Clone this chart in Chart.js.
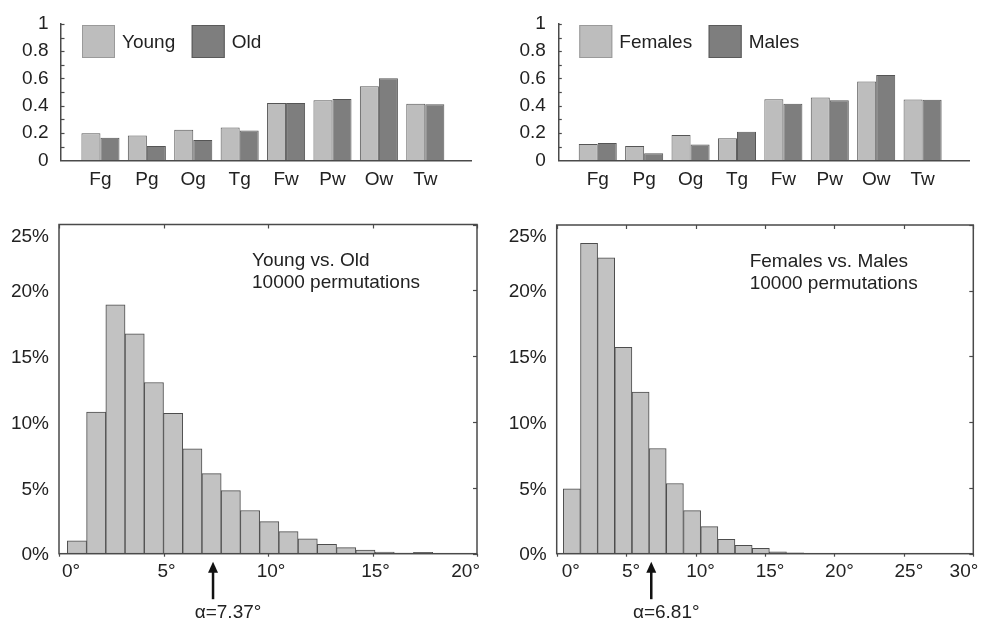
<!DOCTYPE html>
<html><head><meta charset="utf-8">
<script src="https://cdn.jsdelivr.net/npm/chart.js@4/dist/chart.umd.min.js"></script>
<style>
html,body{margin:0;padding:0;background:#fff;width:983px;height:622px;overflow:hidden}
.p{position:absolute}
canvas{display:block}
</style></head><body>
<div class="p" style="left:0;top:0"><canvas id="c1" width="490" height="200"></canvas></div>
<div class="p" style="left:490px;top:0"><canvas id="c2" width="493" height="200"></canvas></div>
<div class="p" style="left:0;top:200px"><canvas id="c3" width="490" height="422"></canvas></div>
<div class="p" style="left:490px;top:200px"><canvas id="c4" width="493" height="422"></canvas></div>
<script>
// ---------- data ----------
const categories = ['Fg','Pg','Og','Tg','Fw','Pw','Ow','Tw'];
const youngVals  = [0.199,0.182,0.224,0.241,0.421,0.440,0.542,0.414];
const oldVals    = [0.166,0.104,0.148,0.219,0.421,0.450,0.601,0.411];
const femaleVals = [0.119,0.104,0.185,0.161,0.447,0.460,0.577,0.445];
const maleVals   = [0.126,0.051,0.115,0.209,0.414,0.440,0.626,0.443];
const topYTicks  = [0,0.2,0.4,0.6,0.8,1];
const topYLabels = ['0','0.2','0.4','0.6','0.8','1'];
const topMinorTicks = [0.1,0.2,0.3,0.4,0.5,0.6,0.7,0.8,0.9,1];

const binCentersYO = [0.86,1.78,2.70,3.62,4.54,5.46,6.38,7.30,8.22,9.14,10.06,10.98,11.90,12.82,13.74,14.66,15.58,16.50,17.42];
const pctYO        = [0.97,10.76,18.9,16.7,13.0,10.66,7.97,6.08,4.79,3.28,2.44,1.68,1.12,0.72,0.46,0.28,0.13,0.05,0.10];
const binCentersFM = [1.09,2.33,3.56,4.80,6.04,7.27,8.51,9.75,10.99,12.22,13.46,14.70,15.93,17.17];
const pctFM        = [4.94,23.6,22.5,15.7,12.3,8.0,5.34,3.28,2.06,1.1,0.64,0.40,0.15,0.07];
const histYTicks   = [0,5,10,15,20,25];
const histYLabels  = ['0%','5%','10%','15%','20%','25%'];
const xTicksYO     = [0,5,10,15,20];
const xLabelsYO    = ['0°','5°','10°','15°','20°'];
const xTicksFM     = [0,5,10,15,20,25,30];
const xLabelsFM    = ['0°','5°','10°','15°','20°','25°','30°'];
const alphaYO = 7.37, alphaFM = 6.81;
const titleYO = ['Young vs. Old','10000 permutations'];
const titleFM = ['Females vs. Males','10000 permutations'];

// ---------- style ----------
const FONT = "'Liberation Sans', Arial, Helvetica, sans-serif";
Chart.defaults.font.family = FONT;
Chart.defaults.font.size = 19;
Chart.defaults.color = '#222';
Chart.defaults.animation = false;
Chart.defaults.plugins.tooltip.enabled = false;
Chart.defaults.plugins.legend.display = false;
const AX = '#4a4a4a';
const LIGHT = '#bdbdbd', DARK = '#7e7e7e', BAR_EDGE = '#555';

function groupChart(id, area, series, names) {
  const el = document.getElementById(id);
  const W = el.width, H = el.height, YW = 50, XH = 30;
  const fills = [LIGHT, DARK];
  const legendPlugin = {
    id: 'deco' + id,
    afterDraw(chart) {
      const ctx = chart.ctx, ca = chart.chartArea, ys = chart.scales.y;
      ctx.save();
      ctx.strokeStyle = AX; ctx.lineWidth = 1.2;
      topMinorTicks.forEach(v => {
        const y = Math.round(ys.getPixelForValue(v)) + 0.5;
        ctx.beginPath(); ctx.moveTo(ca.left, y); ctx.lineTo(ca.left + 3.5, y); ctx.stroke();
      });
      // legend
      let x = ca.left + 21;
      const top = 25, sz = 33;
      ctx.font = '19px ' + FONT; ctx.textBaseline = 'middle'; ctx.textAlign = 'left';
      chart.data.datasets.forEach((ds, k) => {
        ctx.fillStyle = ds.backgroundColor;
        ctx.fillRect(x, top, sz, sz);
        ctx.strokeStyle = k === 0 ? '#9a9a9a' : '#5a5a5a'; ctx.lineWidth = 1;
        ctx.strokeRect(x + 0.5, top + 0.5, sz - 1, sz - 1);
        ctx.fillStyle = '#222';
        ctx.fillText(ds.label, x + sz + 7, top + sz / 2 + 1);
        x += sz + 7 + ctx.measureText(ds.label).width + 16.5;
      });
      ctx.restore();
    }
  };
  return new Chart(el, {
    type: 'bar',
    data: {
      datasets: series.map((vals, k) => ({
        label: names[k],
        data: vals.map((v, i) => ({x: i + 1, y: v})),
        backgroundColor: fills[k], borderColor: BAR_EDGE, borderWidth: 1,
        categoryPercentage: 0.82, barPercentage: 1
      }))
    },
    options: {
      responsive: false, devicePixelRatio: 1,
      layout: {padding: {left: area.l - YW, right: W - area.r, top: area.t, bottom: H - area.b - XH}},
      scales: {
        x: {
          type: 'linear', min: 0.15, max: 9.0, offset: false,
          grid: {display: false, drawTicks: false},
          border: {display: true, color: AX, width: 1.5},
          afterBuildTicks: ax => { ax.ticks = categories.map((c, i) => ({value: i + 1})); },
          ticks: {padding: 8, autoSkip: false, maxRotation: 0, callback: (v, i) => categories[i]},
          afterFit: s => { s.height = XH; }
        },
        y: {
          min: 0, max: 1,
          grid: {display: false, drawTicks: false},
          border: {display: true, color: AX, width: 1.5},
          afterBuildTicks: ax => { ax.ticks = topYTicks.map(v => ({value: v})); },
          ticks: {padding: 12.5, callback: (v, i) => topYLabels[i]},
          afterFit: s => { s.width = YW; }
        }
      }
    },
    plugins: [legendPlugin]
  });
}

function histChart(id, area, centers, pcts, xTicks, xLabels, xMax, alpha, title, xLabelOffset) {
  const el = document.getElementById(id);
  const W = el.width, H = el.height, YW = 50, XH = 30;
  const deco = {
    id: 'deco' + id,
    afterDraw(chart) {
      const ctx = chart.ctx, ca = chart.chartArea, xs = chart.scales.x, ys = chart.scales.y;
      ctx.save();
      ctx.strokeStyle = AX; ctx.lineWidth = 1.5;
      ctx.strokeRect(ca.left, ca.top, ca.right - ca.left, ca.bottom - ca.top);
      ctx.lineWidth = 1.2;
      xTicks.forEach(v => {
        const x = Math.round(xs.getPixelForValue(v)) + 0.5;
        ctx.beginPath(); ctx.moveTo(x, ca.top); ctx.lineTo(x, ca.top + 4); ctx.stroke();
        ctx.beginPath(); ctx.moveTo(x, ca.bottom); ctx.lineTo(x, ca.bottom + 3); ctx.stroke();
      });
      histYTicks.forEach(v => {
        const y = Math.round(ys.getPixelForValue(v)) + 0.5;
        ctx.beginPath(); ctx.moveTo(ca.right, y); ctx.lineTo(ca.right - 4, y); ctx.stroke();
      });
      // top y label (shifted down as in the original)
      ctx.fillStyle = '#222'; ctx.font = '19px ' + FONT;
      ctx.textAlign = 'right'; ctx.textBaseline = 'middle';
      ctx.fillText(histYLabels[histYLabels.length - 1], ca.left - 10, ys.getPixelForValue(histYTicks[histYTicks.length - 1]) + 12);
      // annotation
      ctx.textAlign = 'left';
      ctx.fillText(title[0], ca.left + 193, ca.top + 36.5);
      ctx.fillText(title[1], ca.left + 193, ca.top + 58.5);
      // arrow
      const ax = xs.getPixelForValue(alpha);
      const tip = ca.bottom + 8;
      ctx.fillStyle = '#111'; ctx.strokeStyle = '#111';
      ctx.beginPath(); ctx.moveTo(ax, tip); ctx.lineTo(ax - 5, tip + 11); ctx.lineTo(ax + 5, tip + 11); ctx.closePath(); ctx.fill();
      ctx.lineWidth = 2.5;
      ctx.beginPath(); ctx.moveTo(ax, tip + 9); ctx.lineTo(ax, ca.bottom + 45.5); ctx.stroke();
      ctx.fillStyle = '#222'; ctx.textAlign = 'center';
      ctx.fillText('α=' + alpha.toFixed(2) + '°', ax + 15, ca.bottom + 59.5);
      ctx.restore();
    }
  };
  return new Chart(el, {
    type: 'bar',
    data: {
      datasets: [{
        label: title[0],
        data: centers.map((c, i) => ({x: c, y: pcts[i]})),
        backgroundColor: '#c2c2c2', borderColor: '#4d4d4d', borderWidth: 1,
        categoryPercentage: 1, barPercentage: 1
      }]
    },
    options: {
      responsive: false, devicePixelRatio: 1,
      layout: {padding: {left: area.l - YW, right: W - area.r, top: area.t, bottom: H - area.b - XH}},
      scales: {
        x: {
          type: 'linear', min: 0, max: xMax, offset: false,
          grid: {display: false, drawTicks: false},
          border: {display: false},
          afterBuildTicks: ax => { ax.ticks = xTicks.map(v => ({value: v})); },
          ticks: {padding: 7, autoSkip: false, maxRotation: 0, align: 'inner', labelOffset: xLabelOffset,
                  callback: (v, i) => xLabels[i]},
          afterFit: s => { s.height = XH; }
        },
        y: {
          min: 0, max: 25,
          grid: {display: false, drawTicks: false},
          border: {display: false},
          afterBuildTicks: ax => { ax.ticks = histYTicks.map(v => ({value: v})); },
          ticks: {padding: 10, labelOffset: 1.5,
                  callback: (v, i, arr) => i === arr.length - 1 ? '' : histYLabels[i]},
          afterFit: s => { s.width = YW; }
        }
      }
    },
    plugins: [deco]
  });
}

groupChart('c1', {l: 61, r: 471.7, t: 23, b: 160.3}, [youngVals, oldVals], ['Young', 'Old']);
groupChart('c2', {l: 68.3, r: 479, t: 23, b: 160.3}, [femaleVals, maleVals], ['Females', 'Males']);
histChart('c3', {l: 59, r: 477, t: 24.5, b: 353.7}, binCentersYO, pctYO, xTicksYO, xLabelsYO, 20, alphaYO, titleYO, 3);
histChart('c4', {l: 66.7, r: 483.3, t: 25, b: 353.7}, binCentersFM, pctFM, xTicksFM, xLabelsFM, 30, alphaFM, titleFM, 5);
</script>
</body></html>
